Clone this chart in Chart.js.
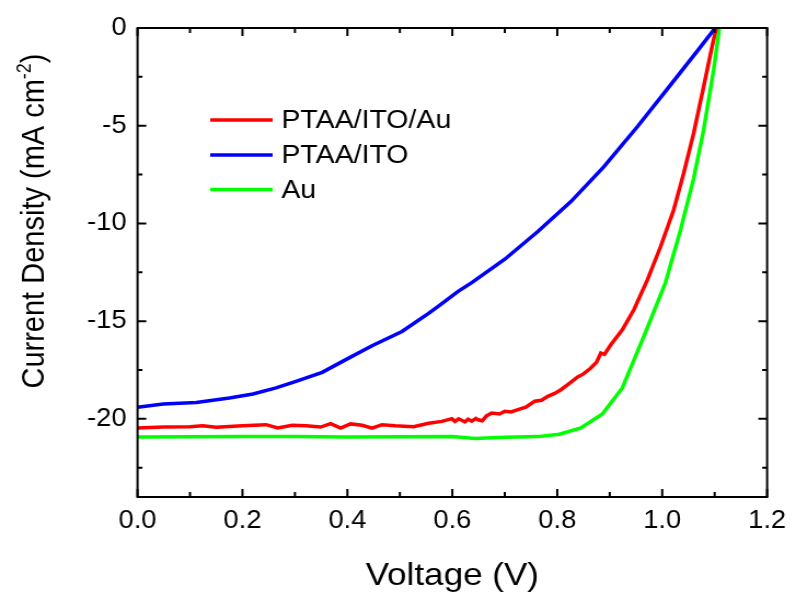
<!DOCTYPE html>
<html>
<head>
<meta charset="utf-8">
<script src="https://cdn.jsdelivr.net/npm/chart.js@4.4.0/dist/chart.umd.min.js"></script>
<style>
  html, body { margin: 0; padding: 0; background: #fff; overflow: hidden; }
  canvas { display: block; }
</style>
</head>
<body>
<!-- drawn at 727 wide and stretched to 796, like the original figure -->
<canvas id="jvChart" width="727" height="594" style="width:796px;height:594px"></canvas>
<script>
// J-V curves, voltage (V) vs current density (mA cm-2)
const ptaaItoAuV = [0, 0.05, 0.10, 0.124, 0.15, 0.2, 0.245, 0.267, 0.295, 0.321, 0.349, 0.368, 0.387, 0.406, 0.428, 0.447, 0.466, 0.491, 0.526, 0.555, 0.58, 0.599, 0.605, 0.612, 0.624, 0.63, 0.637, 0.645, 0.649, 0.657, 0.665, 0.675, 0.69, 0.70, 0.712, 0.725, 0.74, 0.757, 0.77, 0.782, 0.795, 0.807, 0.82, 0.839, 0.85, 0.864, 0.875, 0.883, 0.89, 0.902, 0.924, 0.946, 0.972, 0.997, 1.022, 1.041, 1.060, 1.079, 1.095, 1.103];
const ptaaItoAuJ = [-20.47, -20.42, -20.40, -20.35, -20.43, -20.35, -20.30, -20.47, -20.33, -20.35, -20.42, -20.25, -20.47, -20.26, -20.33, -20.48, -20.30, -20.35, -20.40, -20.23, -20.13, -19.99, -20.13, -20.00, -20.16, -20.02, -20.12, -19.98, -20.05, -20.10, -19.85, -19.70, -19.75, -19.61, -19.65, -19.53, -19.40, -19.10, -19.05, -18.85, -18.70, -18.51, -18.25, -17.86, -17.70, -17.40, -17.10, -16.63, -16.70, -16.21, -15.44, -14.42, -12.88, -11.18, -9.30, -7.43, -5.38, -3.00, -0.95, 0];

const ptaaItoV = [0, 0.049, 0.112, 0.175, 0.22, 0.264, 0.302, 0.352, 0.397, 0.447, 0.504, 0.554, 0.573, 0.611, 0.637, 0.700, 0.763, 0.826, 0.889, 0.953, 1.016, 1.066, 1.101];
const ptaaItoJ = [-19.41, -19.24, -19.16, -18.93, -18.73, -18.42, -18.08, -17.62, -16.97, -16.26, -15.53, -14.62, -14.25, -13.48, -13.03, -11.83, -10.41, -8.88, -7.09, -5.04, -2.91, -1.21, 0];

const auV = [0, 0.1, 0.2, 0.3, 0.4, 0.5, 0.6, 0.643, 0.700, 0.763, 0.804, 0.845, 0.886, 0.924, 0.965, 1.006, 1.035, 1.060, 1.079, 1.098, 1.109];
const auJ = [-20.93, -20.92, -20.90, -20.91, -20.93, -20.92, -20.90, -21.01, -20.94, -20.91, -20.79, -20.47, -19.75, -18.42, -15.78, -13.05, -10.33, -7.69, -5.21, -2.15, 0];

const xTicks = [0, 0.2, 0.4, 0.6, 0.8, 1.0, 1.2];
const xMinorTicks = [0.1, 0.3, 0.5, 0.7, 0.9, 1.1];
const yTicks = [0, -5, -10, -15, -20];
const yMinorTicks = [-2.5, -7.5, -12.5, -17.5, -22.5];

const FONT = "'Liberation Sans', Arial, sans-serif";

const toPoints = (xs, ys) => xs.map((v, i) => ({ x: v, y: ys[i] }));

const lineSet = (label, color, xs, ys) => ({
  label: label,
  data: toPoints(xs, ys),
  showLine: true,
  borderColor: color,
  backgroundColor: color,
  borderWidth: 3.5,
  pointRadius: 0,
  tension: 0,
  fill: false
});

// frame, inward ticks, legend and axis titles
const decor = {
  id: "decor",
  afterDatasetsDraw(chart) {
    const { ctx, chartArea: a, scales: { x, y } } = chart;
    ctx.save();
    ctx.strokeStyle = "#000";
    ctx.lineWidth = 2;
    ctx.strokeRect(a.left, a.top, a.right - a.left, a.bottom - a.top);

    ctx.beginPath();
    const xt = (v, len) => {
      const px = x.getPixelForValue(v);
      ctx.moveTo(px, a.bottom); ctx.lineTo(px, a.bottom - len);
      ctx.moveTo(px, a.top); ctx.lineTo(px, a.top + len);
    };
    const yt = (v, len) => {
      const py = y.getPixelForValue(v);
      ctx.moveTo(a.left, py); ctx.lineTo(a.left + len, py);
      ctx.moveTo(a.right, py); ctx.lineTo(a.right - len, py);
    };
    xTicks.forEach(v => xt(v, 8));
    xMinorTicks.forEach(v => xt(v, 5));
    yTicks.forEach(v => yt(v, 8));
    yMinorTicks.forEach(v => yt(v, 4.5));
    ctx.stroke();

    // legend
    ctx.font = "26px " + FONT;
    ctx.fillStyle = "#000";
    ctx.textBaseline = "middle";
    ctx.textAlign = "left";
    const rows = [120, 155, 189.5];
    chart.data.datasets.forEach((ds, i) => {
      ctx.strokeStyle = ds.borderColor;
      ctx.lineWidth = 3.5;
      ctx.beginPath();
      ctx.moveTo(192, rows[i]);
      ctx.lineTo(249, rows[i]);
      ctx.stroke();
      ctx.fillText(ds.label, 257, rows[i] + 1);
    });
    ctx.restore();
  },
  afterDraw(chart) {
    const { ctx, chartArea: a } = chart;
    ctx.save();
    ctx.fillStyle = "#000";
    ctx.textBaseline = "alphabetic";

    // x title
    ctx.font = "32px " + FONT;
    ctx.textAlign = "center";
    ctx.fillText("Voltage (V)", (a.left + a.right) / 2, 585);

    // y title with superscript
    const main = "Current Density (mA cm";
    const sup = "-2";
    const tail = ")";
    ctx.font = "29px " + FONT;
    const wMain = ctx.measureText(main).width;
    const wTail = ctx.measureText(tail).width;
    ctx.font = "18px " + FONT;
    const wSup = ctx.measureText(sup).width;
    const total = wMain + wSup + wTail;
    ctx.translate(39.5, 221);
    ctx.rotate(-Math.PI / 2);
    ctx.textAlign = "left";
    let px = -total / 2;
    ctx.font = "29px " + FONT;
    ctx.fillText(main, px, 0);
    px += wMain;
    ctx.font = "18px " + FONT;
    ctx.fillText(sup, px, -12);
    px += wSup;
    ctx.font = "29px " + FONT;
    ctx.fillText(tail, px, 0);
    ctx.restore();
  }
};

new Chart(document.getElementById("jvChart"), {
  type: "scatter",
  data: {
    datasets: [
      lineSet("PTAA/ITO/Au", "#ff0000", ptaaItoAuV, ptaaItoAuJ),
      lineSet("PTAA/ITO", "#0000ff", ptaaItoV, ptaaItoJ),
      lineSet("Au", "#00ff00", auV, auJ)
    ]
  },
  options: {
    responsive: false,
    animation: false,
    layout: { padding: { left: 0, right: 23.3, top: 28, bottom: 0 } },
    scales: {
      x: {
        type: "linear",
        min: 0,
        max: 1.2,
        afterBuildTicks: s => { s.ticks = xTicks.map(v => ({ value: v })); },
        afterFit: s => { s.height = 97; },
        ticks: {
          callback: v => Number(v).toFixed(1),
          color: "#000",
          font: { family: FONT, size: 25 },
          padding: 9,
          maxRotation: 0,
          autoSkip: false
        },
        grid: { display: false, drawTicks: false },
        border: { display: false }
      },
      y: {
        type: "linear",
        min: -24,
        max: 0,
        afterBuildTicks: s => { s.ticks = yTicks.map(v => ({ value: v })); },
        afterFit: s => { s.width = 125.6; },
        ticks: {
          callback: v => String(v),
          color: "#000",
          font: { family: FONT, size: 25 },
          padding: 10,
          autoSkip: false
        },
        grid: { display: false, drawTicks: false },
        border: { display: false }
      }
    },
    plugins: {
      legend: { display: false },
      tooltip: { enabled: false }
    }
  },
  plugins: [decor]
});
</script>
</body>
</html>
